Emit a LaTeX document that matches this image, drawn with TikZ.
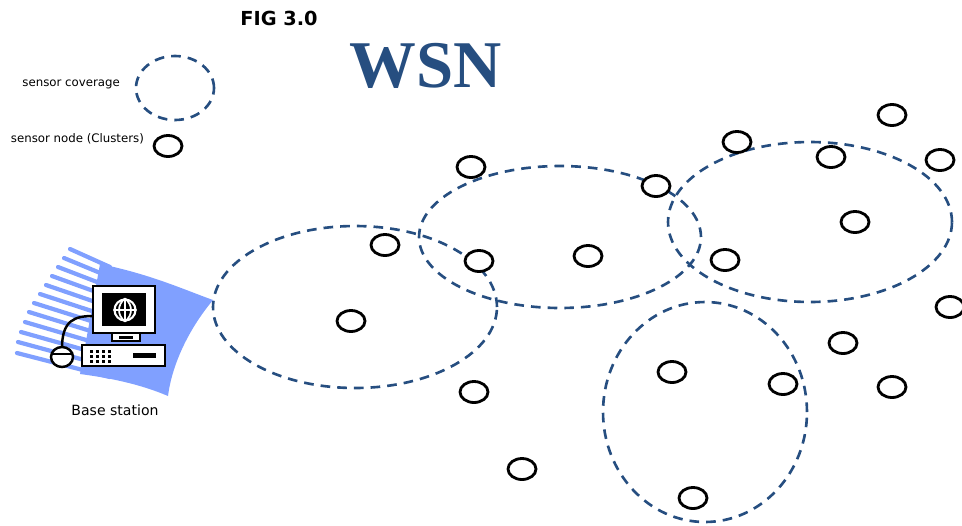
\documentclass[tikz,border=0pt]{standalone}
\usepackage{fontspec}
\setmainfont{DejaVu Sans}
\newfontfamily\titlefont{Liberation Serif}
\usetikzlibrary{shapes.geometric}

\definecolor{wsnblue}{RGB}{38,78,128}
\definecolor{fanblue}{RGB}{128,160,255}

\begin{document}
\begin{tikzpicture}[
    x=0.02cm, y=-0.02cm,
    sensor/.style={draw, ellipse, line width=1.6pt, inner sep=0pt, minimum width=0.56cm, minimum height=0.42cm},
    coverage/.style={draw=wsnblue, line width=1.5pt, dash pattern=on 5.5pt off 4pt},
    label/.style={font=\fontsize{6.7}{7}\selectfont, inner sep=1pt},
    pc/.style={draw, line width=1.4pt, fill=white},
  ]
    \useasboundingbox (0,0) rectangle (962,525);

    % titles
    \node[font=\bfseries\fontsize{11}{12}\selectfont] (fig) at (279,18) {FIG 3.0};
    \node[font=\titlefont\bfseries\fontsize{38}{40}\selectfont, text=wsnblue] (title) at (426,66) {WSN};

    % legend
    \draw[coverage] (175,88) ellipse [x radius=0.78cm, y radius=0.64cm];
    \node[label, anchor=east] (lcov) at (122,84) {sensor coverage};
    \node[sensor] (lnode) at (168,146) {};
    \node[label, anchor=east] (lsen) at (146,139) {sensor node (Clusters)};

    % cluster coverage areas
    \draw[coverage] (355,307) ellipse [x radius=2.84cm, y radius=1.62cm];
    \draw[coverage] (560,237) ellipse [x radius=2.82cm, y radius=1.42cm];
    \draw[coverage] (810,222) ellipse [x radius=2.84cm, y radius=1.60cm];
    \draw[coverage] (705,412) ellipse [x radius=2.04cm, y radius=2.20cm];

    % sensor nodes
    \foreach \name/\px/\py in {
        a/471/167, b/656/186, c/737/142, d/892/115, e/831/157, f/940/160,
        g/855/222, h/725/260, i/479/261, j/588/256, k/385/245, l/351/321,
        m/950/307, n/843/343, o/892/387, p/474/392, q/672/372, r/783/384,
        s/522/469, t/693/498}
      \node[sensor, fill=white] (s\name) at (\px,\py) {};

    % base station
    \fill[fanblue] (100,264) .. controls (150,274) and (185,290) .. (213,300)
      .. controls (188,330) and (172,365) .. (168,396)
      .. controls (140,384) and (110,378) .. (80,374) -- cycle;
    \foreach \tx/\ty/\ey in {70/249/267, 64/258/277, 58/267/287, 52/276/297, 46/285/307,
        40/294/317, 34/303/327, 29/312/337, 25/322/347, 21/332/357, 18/342/367, 17/353/377}
      \draw[fanblue, line width=2.4pt, line cap=round] (\tx,\ty) -- (110,\ey);

    \draw[line width=1.4pt] (62,348) .. controls (62,320) and (75,316) .. (93,316);
    \node[pc, ellipse, minimum width=0.44cm, minimum height=0.40cm, inner sep=0pt] (mouse) at (62,357) {};
    \draw[line width=1pt] (52,354) -- (72,354);

    \draw[pc] (112,333) rectangle (140,341);
    \fill (119,336) rectangle (133,339);
    \draw[pc] (93,286) rectangle (155,333);
    \fill (102,293) rectangle (146,326);
    \node[draw=white, circle, line width=1.2pt, minimum size=0.42cm, inner sep=0pt] (globe) at (125,310) {};
    \draw[white, line width=1pt] (globe.north) -- (globe.south) (globe.west) -- (globe.east)
      (globe.north) .. controls (117,305) and (117,315) .. (globe.south)
      (globe.north) .. controls (133,305) and (133,315) .. (globe.south);

    \draw[pc] (82,345) rectangle (165,366);
    \foreach \dx in {90,96,102,108}
      \foreach \dy in {350,355,360}
        \fill (\dx,\dy) rectangle ++(3,3);
    \fill (133,353) rectangle (156,358);

    \node[font=\fontsize{8}{9}\selectfont] (base) at (115,410) {Base station};
\end{tikzpicture}
\end{document}
